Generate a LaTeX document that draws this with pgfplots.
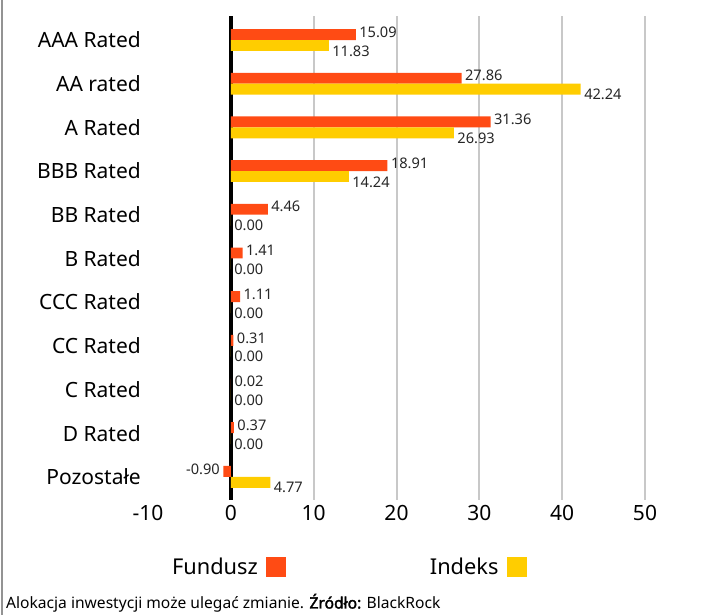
\documentclass[border=0pt]{standalone}
\usepackage{pgfplots}
\pgfplotsset{compat=1.18}
\usepackage{fontspec}
\setmainfont{Noto Sans}[AutoFakeBold=2.2]
\definecolor{fund}{HTML}{FF4B14}
\definecolor{idx}{HTML}{FFCD00}
\definecolor{gridc}{HTML}{C8C8C8}
\begin{document}
\begin{tikzpicture}[x=1pt,y=1pt]
\useasboundingbox (0,0) rectangle (722,615);
\draw[color=gray!85, line width=1.5pt] (2,0) -- (2,615);
\begin{axis}[
  at={(148pt,115pt)}, anchor=south west,
  scale only axis, width=497pt, height=484pt,
  xmin=-10, xmax=50, ymin=-0.53, ymax=10.55,
  xbar, bar width=0.25,
  axis line style={draw=none},
  major tick length=0pt, minor tick length=0pt,
  xtick={-10,0,10,20,30,40,50},
  minor xtick={10,20,30,40,50},
  xminorgrids, minor grid style={gridc, line width=2pt},
  extra x ticks={0}, extra x tick labels={},
  extra x tick style={grid=major, major grid style={black, line width=4pt}},
  ytick={0,...,10},
  yticklabels={Pozostałe, D Rated, C Rated, CC Rated, CCC Rated, B Rated, BB Rated, BBB Rated, A Rated, AA rated, AAA Rated},
  /pgf/number format/assume math mode=true,
  tick label style={font=\fontsize{21}{25}\selectfont},
  xticklabel style={inner sep=0pt, yshift=-5pt},
  yticklabel style={inner sep=0pt, xshift=-7pt},
  point meta=x,
  nodes near coords={\pgfmathprintnumber[fixed,fixed zerofill,precision=2,assume math mode=true]{\pgfplotspointmeta}},
  nodes near coords style={font=\fontsize{14.6}{16}\selectfont, color=black!85},
  legend plot pos=right,
  legend columns=2,
  legend style={draw=none, fill=none, at={(axis description cs:0.048,-0.138)}, anchor=west,
    font=\fontsize{21.8}{25}\selectfont, inner sep=0pt,
    nodes={inner sep=0pt},
    /tikz/every odd column/.append style={column sep=8pt},
    /tikz/every even column/.append style={column sep=144pt}},
  legend image code/.code={\fill[#1] (0pt,-10pt) rectangle (20pt,10pt);},
]
\addplot[fill=fund, draw=none, bar shift=0.125,
  every node near coord/.append style={yshift=2.5pt}] coordinates {
  (15.09,10) (27.86,9) (31.36,8) (18.91,7) (4.46,6) (1.41,5) (1.11,4) (0.31,3) (0.02,2) (0.37,1) (-0.90,0)};
\addlegendentry{Fundusz}
\addplot[fill=idx, draw=none, bar shift=-0.125,
  every node near coord/.append style={yshift=-5.5pt}] coordinates {
  (11.83,10) (42.24,9) (26.93,8) (14.24,7) (0,6) (0,5) (0,4) (0,3) (0,2) (0,1) (4.77,0)};
\addlegendentry{Indeks}
\end{axis}
\node[anchor=west, font=\fontsize{15.6}{17}\selectfont, inner sep=0pt] at (6,12) {Alokacja inwestycji może ulegać zmianie. \textbf{Źródło:} BlackRock};
\end{tikzpicture}
\end{document}
